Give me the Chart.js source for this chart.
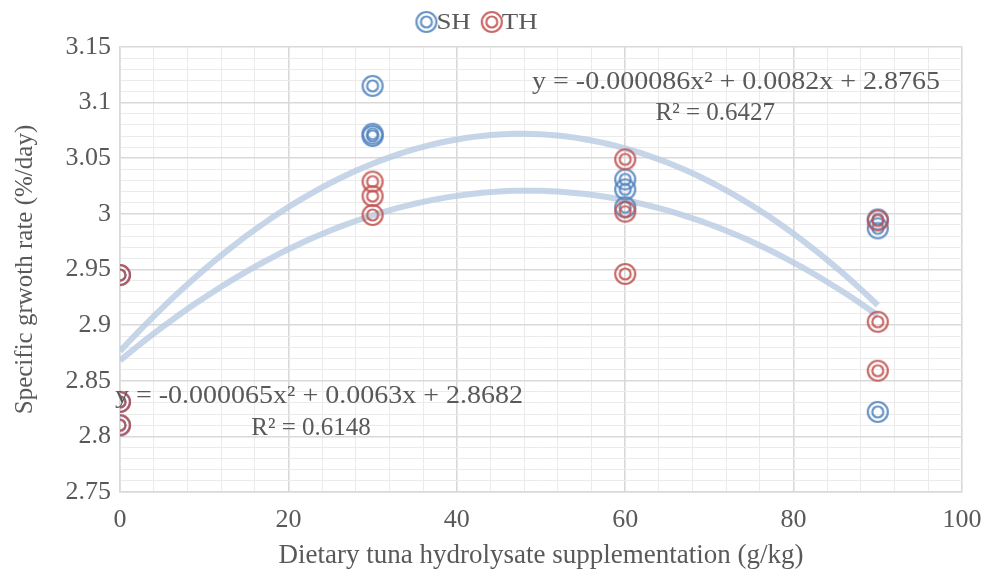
<!DOCTYPE html>
<html>
<head>
<meta charset="utf-8">
<script src="https://cdn.jsdelivr.net/npm/chart.js@4.4.0/dist/chart.umd.min.js"></script>
<style>
  html, body { margin: 0; padding: 0; background: #fff; }
  #wrap { width: 983px; height: 573px; }
</style>
</head>
<body>
<div id="wrap"><canvas id="growthChart"></canvas></div>
<script>
// doses (g/kg) and replicate values
const doses = [0, 30, 60, 90];
const shValues = [
  [2.945, 2.831, 2.810],
  [3.115, 3.072, 3.070],
  [3.031, 3.022, 3.006],
  [2.995, 2.987, 2.822]
];
const thValues = [
  [2.945, 2.831, 2.810],
  [3.029, 3.016, 2.999],
  [3.049, 3.002, 2.946],
  [2.994, 2.903, 2.859]
];

// quadratic trendline coefficients [c, b, a] as printed on the chart
const shFit = [2.8765, 0.0082, -0.000086];
const thFit = [2.8682, 0.0063, -0.000065];
const shFitText = ['y = -0.000086x² + 0.0082x + 2.8765', 'R² = 0.6427'];
const thFitText = ['y = -0.000065x² + 0.0063x + 2.8682', 'R² = 0.6148'];

const xMajorTicks = [0, 20, 40, 60, 80, 100];
const yMajorTicks = [2.75, 2.8, 2.85, 2.9, 2.95, 3, 3.05, 3.1, 3.15];

const FONT = '"Liberation Serif", "Times New Roman", serif';
const TEXT = '#595959';
const BLUE = 'rgba(79,129,189,0.85)';
const RED = 'rgba(192,80,77,0.85)';
const STRETCH = 1.12; // reference text runs a little wide

function ringMarker(color) {
  const c = document.createElement('canvas');
  c.width = 26;
  c.height = 26;
  const g = c.getContext('2d');
  g.strokeStyle = color;
  g.lineWidth = 2.2;
  g.beginPath();
  g.arc(13, 13, 10, 0, Math.PI * 2);
  g.stroke();
  g.beginPath();
  g.arc(13, 13, 5.5, 0, Math.PI * 2);
  g.stroke();
  return c;
}

function toPoints(values) {
  const pts = [];
  doses.forEach((d, i) => values[i].forEach(v => pts.push({ x: d, y: v })));
  return pts;
}

function fitCurve(coef) {
  const pts = [];
  for (let x = 0; x <= doses[doses.length - 1]; x++) {
    pts.push({ x: x, y: coef[0] + coef[1] * x + coef[2] * x * x });
  }
  return pts;
}

const shMarker = ringMarker(BLUE);
const thMarker = ringMarker(RED);

// where the fit equations sit, in data units
const fitNotes = [
  { text: shFitText[0], x: 97.4, y: 3.1185, align: 'right', stretch: STRETCH },
  { text: shFitText[1], x: 77.8, y: 3.0905, align: 'right', stretch: 1 },
  { text: thFitText[0], x: -0.6, y: 2.8355, align: 'left', stretch: STRETCH },
  { text: thFitText[1], x: 15.6, y: 2.8075, align: 'left', stretch: 1 }
];

function wideText(ctx, text, x, y, align, k) {
  const w = ctx.measureText(text).width * k;
  const left = align === 'right' ? x - w : x;
  ctx.save();
  ctx.translate(left, y);
  ctx.scale(k, 1);
  ctx.textAlign = 'left';
  ctx.fillText(text, 0, 0);
  ctx.restore();
  return w;
}

const notesPlugin = {
  id: 'notes',
  afterDatasetsDraw(chart) {
    const { ctx, scales } = chart;
    ctx.save();
    ctx.fillStyle = TEXT;
    ctx.textBaseline = 'middle';
    ctx.font = '25px ' + FONT;
    fitNotes.forEach(n => {
      wideText(ctx, n.text, scales.x.getPixelForValue(n.x), scales.y.getPixelForValue(n.y), n.align, n.stretch);
    });

    // legend
    const items = [{ img: shMarker, label: 'SH' }, { img: thMarker, label: 'TH' }];
    ctx.font = '24px ' + FONT;
    const gap = 10;
    const widths = items.map(it => 21 + ctx.measureText(it.label).width * STRETCH);
    const total = widths.reduce((a, b) => a + b, 0) + gap;
    let lx = chart.width / 2 - 14 - total / 2;
    const ly = 22;
    items.forEach((it, i) => {
      ctx.drawImage(it.img, lx - 3, ly - 13);
      wideText(ctx, it.label, lx + 20, ly + 1, 'left', STRETCH);
      lx += widths[i] + gap;
    });
    ctx.restore();
  }
};

const isMajorX = v => xMajorTicks.includes(v);
const isMajorY = v => yMajorTicks.some(t => Math.abs(t - v) < 1e-6);

new Chart(document.getElementById('growthChart'), {
  type: 'scatter',
  data: {
    datasets: [
      {
        label: 'SH',
        data: toPoints(shValues),
        pointStyle: shMarker,
        pointRadius: 11,
        order: 1
      },
      {
        label: 'TH',
        data: toPoints(thValues),
        pointStyle: thMarker,
        pointRadius: 11,
        order: 0
      },
      {
        label: 'SH fit',
        type: 'line',
        data: fitCurve(shFit),
        borderColor: 'rgba(184,202,226,0.8)',
        borderWidth: 6,
        pointRadius: 0,
        tension: 0,
        order: 3
      },
      {
        label: 'TH fit',
        type: 'line',
        data: fitCurve(thFit),
        borderColor: 'rgba(184,202,226,0.8)',
        borderWidth: 6,
        pointRadius: 0,
        tension: 0,
        order: 3
      }
    ]
  },
  options: {
    responsive: true,
    maintainAspectRatio: false,
    animation: false,
    layout: { padding: { top: 47, right: 21, left: 0, bottom: 0 } },
    plugins: {
      legend: { display: false },
      tooltip: { enabled: false }
    },
    scales: {
      x: {
        type: 'linear',
        min: 0,
        max: 100,
        ticks: {
          stepSize: 4,
          autoSkip: false,
          maxTicksLimit: 200,
          maxRotation: 0,
          padding: 13,
          color: TEXT,
          font: { family: FONT, size: 26 },
          callback: v => isMajorX(v) ? String(v) : ''
        },
        grid: {
          drawTicks: false,
          color: c => isMajorX(c.tick.value) ? '#d9d9d9' : '#ebebeb',
          lineWidth: c => isMajorX(c.tick.value) ? 1.6 : 1
        },
        border: { color: '#d9d9d9', width: 1.6 },
        title: {
          display: true,
          text: 'Dietary tuna hydrolysate supplementation (g/kg)',
          color: TEXT,
          font: { family: FONT, size: 27 },
          padding: { top: 0, bottom: 1 }
        },
        afterFit: s => {
          s.height = 81;
          s.paddingLeft = 0;
          s.paddingRight = 0;
        }
      },
      y: {
        min: 2.75,
        max: 3.15,
        ticks: {
          stepSize: 0.01,
          autoSkip: false,
          maxTicksLimit: 200,
          padding: 9,
          color: TEXT,
          font: { family: FONT, size: 26 },
          callback: v => isMajorY(v) ? String(parseFloat(v.toFixed(2))) : ''
        },
        grid: {
          drawTicks: false,
          color: c => isMajorY(c.tick.value) ? '#d9d9d9' : '#ebebeb',
          lineWidth: c => isMajorY(c.tick.value) ? 1.6 : 1
        },
        border: { color: '#d9d9d9', width: 1.6 },
        title: {
          display: true,
          text: 'Specific grwoth rate (%/day)',
          color: TEXT,
          font: { family: FONT, size: 25 },
          padding: { top: 10, bottom: 0 }
        },
        afterFit: s => { s.width = 120; }
      }
    }
  },
  plugins: [notesPlugin]
});
</script>
</body>
</html>
